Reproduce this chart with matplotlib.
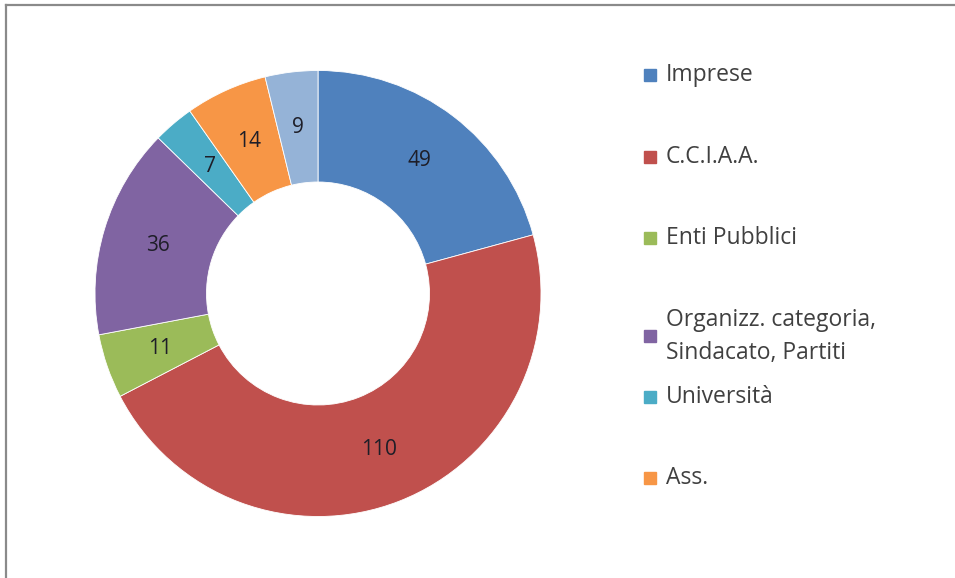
import numpy as np
import matplotlib.pyplot as plt
from matplotlib.lines import Line2D
from matplotlib.patches import Rectangle

plt.rcParams['font.family'] = ['Open Sans', 'DejaVu Sans']

# dati
categorie = ['Imprese', 'C.C.I.A.A.', 'Enti Pubblici',
             'Organizz. categoria,\nSindacato, Partiti', 'Università', 'Ass.', 'Altro']
valori = [49, 110, 11, 36, 7, 14, 9]
colori = ['#4F81BD', '#C0504D', '#9BBB59', '#8064A2', '#4BACC6', '#F79646', '#95B3D7']

fig = plt.figure(figsize=(9.55, 5.78), dpi=100)
ax = fig.add_axes([95 / 955, 61 / 578, 446 / 955, 447 / 578])

wedges, _ = ax.pie(valori, colors=colori, startangle=90, counterclock=False,
                   radius=1.0, wedgeprops=dict(width=0.5, edgecolor='white', linewidth=0.6))
ax.set_aspect('equal')
ax.set_xlim(-1, 1)
ax.set_ylim(-1, 1)
ax.axis('off')

# etichette dei valori al centro dell'anello
tot = sum(valori)
ang = 90.0
for v in valori:
    a = np.deg2rad(ang - v / tot * 180)
    ax.text(0.75 * np.cos(a), 0.75 * np.sin(a), str(v), ha='center', va='center',
            fontsize=15, color='#1e1e28')
    ang -= v / tot * 360

# legenda (solo le prime sei voci, come nell'originale)
leg_y = [75, 157, 238, 336, 397, 478]
for lab, col, y in zip(categorie[:6], colori[:6], leg_y):
    fy = 1 - y / 578
    fig.add_artist(Rectangle((644 / 955, fy - 6 / 578), 12 / 955, 12 / 578,
                             transform=fig.transFigure, color=col))
    fig.text(666 / 955, fy, lab, ha='left', va='center', fontsize=16.5,
             color='#404040', linespacing=1.5)

# bordo del grafico (visibile solo sopra e a sinistra)
fig.add_artist(Line2D([6 / 955, 6 / 955], [0, 1 - 5 / 578], transform=fig.transFigure,
                      color='#8a8a8a', linewidth=1.6))
fig.add_artist(Line2D([6 / 955, 1], [1 - 5 / 578, 1 - 5 / 578], transform=fig.transFigure,
                      color='#8a8a8a', linewidth=1.6))

fig.savefig('out.png', dpi=100)
